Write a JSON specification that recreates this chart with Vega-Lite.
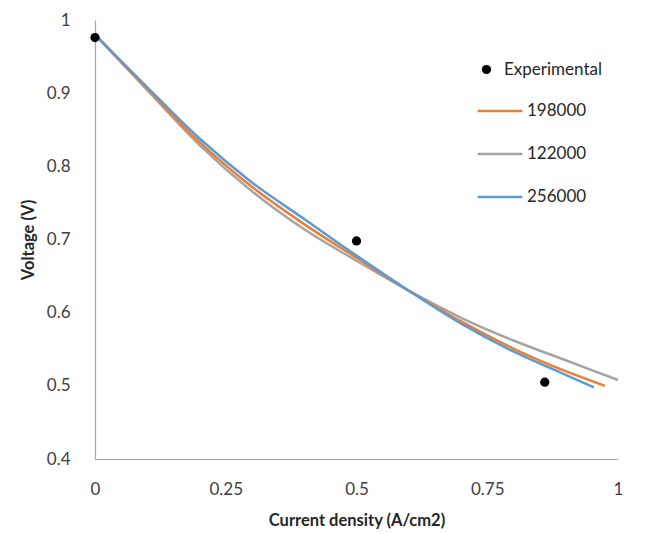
{
  "$schema": "https://vega.github.io/schema/vega-lite/v6.json",
  "width": 523,
  "height": 439,
  "autosize": {"type": "none"},
  "padding": {"left": 95, "top": 20, "right": 32, "bottom": 75},
  "background": "white",
  "config": {
    "font": "Lato",
    "view": {"stroke": null},
    "axis": {"grid": false, "ticks": false, "domainColor": "#a6a6a6", "domainWidth": 1.2, "labelFont": "Lato", "labelFontSize": 17, "labelColor": "#404040", "titleFont": "Lato", "titleFontSize": 16.5, "titleFontWeight": "bold", "titleColor": "#262626"},
    "legend": {"labelFont": "Lato", "labelFontSize": 17, "labelColor": "#262626"}
  },
  "datasets": {
    "exp": [
      {"x": 0, "y": 0.976, "series": "Experimental"},
      {"x": 0.5, "y": 0.698, "series": "Experimental"},
      {"x": 0.86, "y": 0.505, "series": "Experimental"}
    ],
    "model": [
      {"x": 0, "y": 0.98, "series": "122000"},
      {"x": 0.1, "y": 0.904, "series": "122000"},
      {"x": 0.2, "y": 0.829, "series": "122000"},
      {"x": 0.3, "y": 0.766, "series": "122000"},
      {"x": 0.4, "y": 0.714, "series": "122000"},
      {"x": 0.5, "y": 0.671, "series": "122000"},
      {"x": 0.6, "y": 0.630, "series": "122000"},
      {"x": 0.7, "y": 0.593, "series": "122000"},
      {"x": 0.8, "y": 0.562, "series": "122000"},
      {"x": 0.9, "y": 0.535, "series": "122000"},
      {"x": 1.0, "y": 0.508, "series": "122000"},
      {"x": 0, "y": 0.98, "series": "198000"},
      {"x": 0.1, "y": 0.906, "series": "198000"},
      {"x": 0.2, "y": 0.833, "series": "198000"},
      {"x": 0.3, "y": 0.772, "series": "198000"},
      {"x": 0.4, "y": 0.721, "series": "198000"},
      {"x": 0.5, "y": 0.675, "series": "198000"},
      {"x": 0.6, "y": 0.630, "series": "198000"},
      {"x": 0.7, "y": 0.588, "series": "198000"},
      {"x": 0.8, "y": 0.551, "series": "198000"},
      {"x": 0.9, "y": 0.520, "series": "198000"},
      {"x": 0.975, "y": 0.500, "series": "198000"},
      {"x": 0, "y": 0.98, "series": "256000"},
      {"x": 0.1, "y": 0.908, "series": "256000"},
      {"x": 0.2, "y": 0.838, "series": "256000"},
      {"x": 0.3, "y": 0.778, "series": "256000"},
      {"x": 0.4, "y": 0.728, "series": "256000"},
      {"x": 0.5, "y": 0.678, "series": "256000"},
      {"x": 0.6, "y": 0.630, "series": "256000"},
      {"x": 0.7, "y": 0.585, "series": "256000"},
      {"x": 0.8, "y": 0.547, "series": "256000"},
      {"x": 0.9, "y": 0.515, "series": "256000"},
      {"x": 0.954, "y": 0.498, "series": "256000"}
    ]
  },
  "layer": [
    {
      "data": {"name": "model"},
      "mark": {"type": "line", "interpolate": "monotone", "strokeWidth": 2.5},
      "encoding": {
        "x": {"field": "x", "type": "quantitative", "scale": {"domain": [0, 1]}, "axis": {"values": [0, 0.25, 0.5, 0.75, 1], "format": ".2~f", "labelFlush": false, "title": "Current density (A/cm2)", "labelPadding": 22, "titlePadding": 15}},
        "y": {"field": "y", "type": "quantitative", "scale": {"domain": [0.4, 1]}, "axis": {"values": [0.4, 0.5, 0.6, 0.7, 0.8, 0.9, 1], "format": ".1~f", "labelFlush": false, "title": "Voltage (V)", "labelPadding": 25, "titlePadding": 10}},
        "stroke": {"field": "series", "type": "nominal", "scale": {"domain": ["198000", "122000", "256000"], "range": ["#ED7D31", "#A5A5A5", "#5B9BD5"]}, "legend": {"title": null, "orient": "none", "legendX": 381, "legendY": 67, "symbolType": "stroke", "symbolSize": 2000, "symbolStrokeWidth": 2.5, "labelOffset": 3, "rowPadding": 11}},
        "order": {"field": "series", "type": "nominal"}
      }
    },
    {
      "data": {"name": "exp"},
      "mark": {"type": "point", "filled": true, "size": 85, "opacity": 1},
      "encoding": {
        "x": {"field": "x", "type": "quantitative"},
        "y": {"field": "y", "type": "quantitative"},
        "color": {"field": "series", "type": "nominal", "scale": {"domain": ["Experimental"], "range": ["black"]}, "legend": {"title": null, "orient": "none", "legendX": 383, "legendY": 41, "symbolType": "circle", "symbolSize": 85, "labelOffset": 9}}
      }
    }
  ]
}
